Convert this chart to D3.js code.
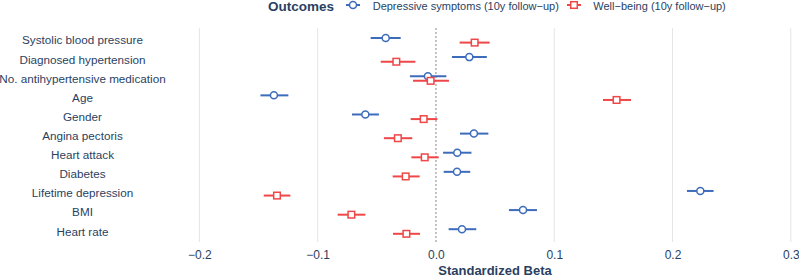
<!DOCTYPE html>
<html><head><meta charset="utf-8">
<script src="https://cdn.jsdelivr.net/npm/d3@7"></script>
<style>body{margin:0;background:#fff;} svg{display:block;font-family:"Liberation Sans",Arial,sans-serif;}</style>
</head><body>
<svg id="chart" width="799" height="277"></svg>
<script>
const categories = ["Systolic blood pressure","Diagnosed hypertension","No. antihypertensive medication","Age","Gender","Angina pectoris","Heart attack","Diabetes","Lifetime depression","BMI","Heart rate"];
const depBeta = [-0.0425, 0.0282, -0.0068, -0.137, -0.0597, 0.0321, 0.018, 0.0178, 0.2235, 0.0736, 0.022];
const depLow  = [-0.0552, 0.0135, -0.022, -0.1484, -0.071, 0.0203, 0.006, 0.0065, 0.2122, 0.0617, 0.0107];
const depHigh = [-0.0298, 0.043, 0.0088, -0.1248, -0.0482, 0.0443, 0.030, 0.029, 0.2347, 0.0854, 0.0341];
const wbBeta = [0.0327, -0.0335, -0.0045, 0.1527, -0.0104, -0.0322, -0.0095, -0.0256, -0.1344, -0.0715, -0.025];
const wbLow  = [0.020, -0.0467, -0.0194, 0.1412, -0.0214, -0.044, -0.0208, -0.0366, -0.1456, -0.0831, -0.0363];
const wbHigh = [0.0454, -0.0174, 0.011, 0.1649, 0.0012, -0.020, 0.0023, -0.0138, -0.1231, -0.0597, -0.0135];
const xTicks = [-0.2, -0.1, 0, 0.1, 0.2, 0.3];
const seriesNames = ["Depressive symptoms (10y follow\u2212up)", "Well\u2212being (10y follow\u2212up)"];

const blue = "#3d6cbc", red = "#ef4648", txt = "#2a3f5f";
const svg = d3.select("#chart");
const x = d3.scaleLinear().domain([-0.2, 0.3]).range([199.4, 790.8]);
const y = d3.scalePoint().domain(categories).range([40.3, 231.5]);
const plotTop = 28, plotBottom = 242;
const off = 2.3;

// grid
svg.append("g").selectAll("line").data(xTicks.filter(d => d !== 0)).join("line")
  .attr("x1", d => x(d)).attr("x2", d => x(d)).attr("y1", plotTop).attr("y2", plotBottom)
  .attr("stroke", "#e5e5e5").attr("stroke-width", 1);
svg.append("line").attr("x1", x(0)).attr("x2", x(0)).attr("y1", plotTop).attr("y2", plotBottom)
  .attr("stroke", "#888").attr("stroke-width", 1).attr("stroke-dasharray", "2,2");

// x axis
const xAxis = d3.axisBottom(x).tickValues(xTicks).tickSize(0).tickPadding(0)
  .tickFormat(d => d === 0 ? "0.0" : d3.format(".1f")(d).replace("-", "\u2212"));
const gx = svg.append("g").attr("transform", `translate(0,${plotBottom})`).call(xAxis);
gx.select(".domain").remove();
gx.selectAll("text").attr("fill", txt).attr("font-size", 12).attr("dy", "1.1em")
  .attr("y", 4).style("font-family", "Liberation Sans, Arial, sans-serif");

// y labels
svg.append("g").selectAll("text").data(categories).join("text")
  .attr("x", 82.5).attr("y", d => y(d)).attr("dy", "0.35em").attr("text-anchor", "middle")
  .attr("fill", txt).attr("font-size", 11.7).text(d => d);

// axis title
svg.append("text").attr("x", 495).attr("y", 274.5).attr("text-anchor", "middle")
  .attr("font-weight", "bold").attr("font-size", 13).attr("fill", txt).text("Standardized Beta");

function drawSeries(beta, lo, hi, color, dy, shape) {
  const g = svg.append("g");
  g.selectAll("line").data(categories).join("line")
    .attr("x1", (d, i) => x(lo[i])).attr("x2", (d, i) => x(hi[i]))
    .attr("y1", d => y(d) + dy).attr("y2", d => y(d) + dy)
    .attr("stroke", color).attr("stroke-width", 2);
  if (shape === "circle") {
    g.selectAll("circle").data(categories).join("circle")
      .attr("cx", (d, i) => x(beta[i])).attr("cy", d => y(d) + dy).attr("r", 3.5)
      .attr("fill", "#fff").attr("stroke", color).attr("stroke-width", 1.5);
  } else {
    g.selectAll("rect").data(categories).join("rect")
      .attr("x", (d, i) => x(beta[i]) - 3.3).attr("y", d => y(d) + dy - 3.3)
      .attr("width", 6.6).attr("height", 6.6)
      .attr("fill", "#fff").attr("stroke", color).attr("stroke-width", 1.5);
  }
}
drawSeries(depBeta, depLow, depHigh, blue, -off, "circle");
drawSeries(wbBeta, wbLow, wbHigh, red, off, "square");

// legend
const leg = svg.append("g");
leg.append("text").attr("x", 268).attr("y", 6).attr("dy", "0.35em").attr("font-weight", "bold")
  .attr("font-size", 13.5).attr("fill", txt).text("Outcomes");
leg.append("line").attr("x1", 346).attr("x2", 360).attr("y1", 5).attr("y2", 5).attr("stroke", blue).attr("stroke-width", 2);
leg.append("circle").attr("cx", 353).attr("cy", 5).attr("r", 3.5).attr("fill", "#fff").attr("stroke", blue).attr("stroke-width", 1.5);
leg.append("text").attr("x", 372.7).attr("y", 6).attr("dy", "0.35em").attr("font-size", 11).attr("fill", txt).text(seriesNames[0]);
leg.append("line").attr("x1", 567).attr("x2", 581).attr("y1", 5).attr("y2", 5).attr("stroke", red).attr("stroke-width", 2);
leg.append("rect").attr("x", 574 - 3.3).attr("y", 5 - 3.3).attr("width", 6.6).attr("height", 6.6).attr("fill", "#fff").attr("stroke", red).attr("stroke-width", 1.5);
leg.append("text").attr("x", 593.3).attr("y", 6).attr("dy", "0.35em").attr("font-size", 11).attr("fill", txt).text(seriesNames[1]);
</script>
</body></html>
